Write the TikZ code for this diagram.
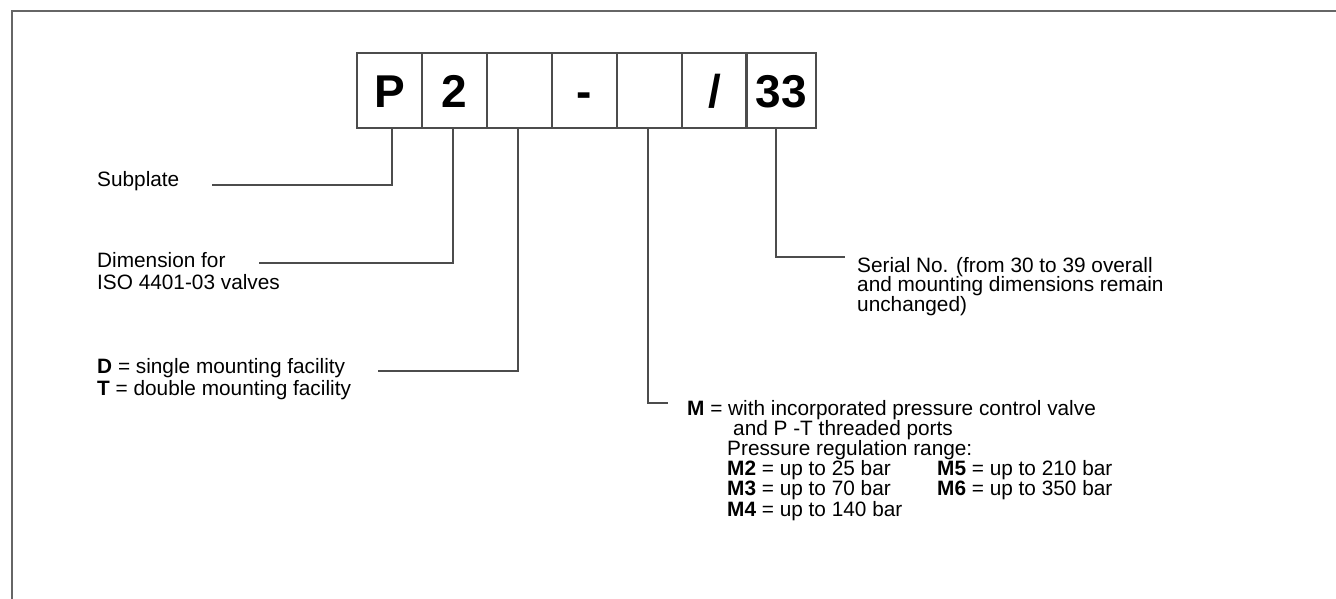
\documentclass[tikz,border=0pt]{standalone}
\usepackage{fontspec}
\setmainfont{Liberation Sans}

\tikzset{
  codebox/.style={draw=black!70, line width=1.3pt, minimum width=65pt, minimum height=75pt,
    inner sep=0pt, text height=34pt, text depth=0pt, font=\fontsize{46}{46}\selectfont\bfseries},
  lead/.style={draw=black!70, line width=1.3pt},
  lbl/.style={anchor=base west, inner sep=0pt, align=left, font=\fontsize{20.8}{22}\selectfont}
}

\begin{document}
\begin{tikzpicture}[x=1pt, y=-1pt]
  \useasboundingbox (0,0) rectangle (1336,599);
  \draw[black!60, line width=2pt] (12,599) -- (12,11) -- (1336,11);

  % code boxes
  \foreach \t [count=\i] in {P,2,{},-,{},/}
    \node[codebox] (b\i) at (357+65*\i-32.5,90.5) {\t};
  \node[codebox, minimum width=70pt] (b7) at (781,90.5) {33};

  % texts (base = last line)
  \node[lbl] (lSub) at (97,186) {Subplate};
  \node[lbl] (lDim) at (97,289) {Dimension for\\ISO 4401-03 valves};
  \node[lbl] (lDT) at (97,395) {\textbf{D} = single mounting facility\\\textbf{T} = double mounting facility};
  \node[lbl, font=\fontsize{20.8}{20.1}\selectfont] (lM) at (687,516) {\textbf{M} = with incorporated pressure control valve\\
    \hspace*{46pt}and P -T threaded ports\\
    \hspace*{40pt}Pressure regulation range:\\
    \hspace*{40pt}\makebox[210pt][l]{\textbf{M2} = up to 25 bar}\textbf{M5} = up to 210 bar\\
    \hspace*{40pt}\makebox[210pt][l]{\textbf{M3} = up to 70 bar}\textbf{M6} = up to 350 bar\\
    \hspace*{40pt}\textbf{M4} = up to 140 bar};
  \node[lbl, font=\fontsize{20.8}{19.7}\selectfont] (lSer) at (857,311.5) {Serial No. (from 30 to 39 overall\\and mounting dimensions remain\\unchanged)};

  \coordinate (eSub) at (212,185);
  \coordinate (eDim) at (259,263);
  \coordinate (eDT) at (378,371);
  \coordinate (eM) at (668,403);
  \coordinate (eSer) at (845,257);

  \draw[lead] ([xshift=2.5pt]b1.south) |- (eSub);
  \draw[lead] ([xshift=-1.5pt]b2.south) |- (eDim);
  \draw[lead] ([xshift=-1.5pt]b3.south) |- (eDT);
  \draw[lead] ([xshift=-1.5pt]b5.south) |- (eM);
  \draw[lead] ([xshift=-5pt]b7.south) |- (eSer);

\end{tikzpicture}
\end{document}
